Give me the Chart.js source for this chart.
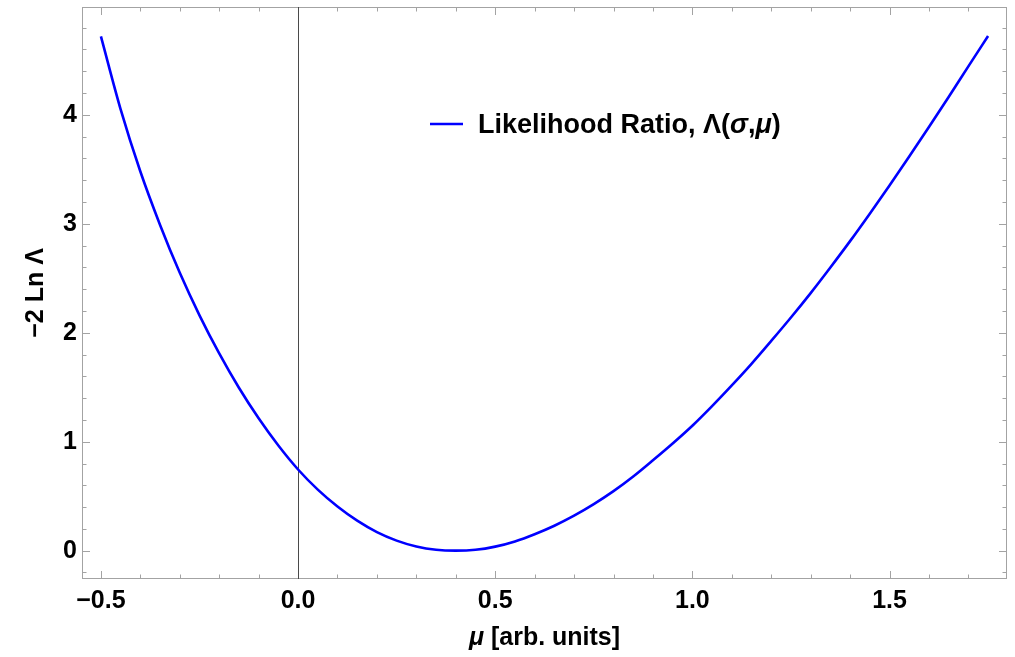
<!DOCTYPE html>
<html>
<head>
<meta charset="utf-8">
<title>Likelihood ratio</title>
<script src="https://cdn.jsdelivr.net/npm/chart.js@4.4.0/dist/chart.umd.min.js"></script>
<style>
    html, body { margin: 0; padding: 0; background: #fff; }
    #wrap { width: 1015px; height: 657px; }
</style>
</head>
<body>
<div id="wrap"><canvas id="chart-lr"></canvas></div>
<script>
// values
var muValues = [-0.50, -0.45, -0.40, -0.35, -0.30, -0.25, -0.20, -0.15, -0.10, -0.05,
    0.00, 0.05, 0.10, 0.15, 0.20, 0.25, 0.30, 0.35, 0.40, 0.45,
    0.50, 0.55, 0.60, 0.65, 0.70, 0.75, 0.80, 0.85, 0.90, 0.95,
    1.00, 1.05, 1.10, 1.15, 1.20, 1.25, 1.30, 1.35, 1.40, 1.45,
    1.50, 1.55, 1.60, 1.65, 1.70, 1.75];
var minus2LnLambda = [4.72, 4.05, 3.48, 2.99, 2.55, 2.16, 1.81, 1.495, 1.215, 0.965,
    0.745, 0.56, 0.405, 0.275, 0.17, 0.092, 0.038, 0.008, 0.0, 0.008,
    0.037, 0.085, 0.151, 0.229, 0.321, 0.427, 0.546, 0.681, 0.830, 0.984,
    1.147, 1.327, 1.517, 1.715, 1.925, 2.140, 2.364, 2.599, 2.841, 3.093,
    3.352, 3.617, 3.888, 4.164, 4.445, 4.724];

var seriesLabel = "Likelihood Ratio, \u039B(\u03C3,\u03BC)";
var xTitle = "\u03BC [arb. units]";
var yTitle = "\u22122 Ln \u039B";

var xMajorStep = 0.5, xMinorStep = 0.1;
var yMajorStep = 1, yMinorStep = 0.2;

var fontFamily = "'Liberation Sans', Arial, sans-serif";
var frameColor = "#a3a3a3";

function boldFont(size, italic) {
    return (italic ? "italic " : "") + "bold " + size + "px " + fontFamily;
}

// draws a string, putting greek lower case letters in italics
function drawRich(ctx, text, x, y, size, align) {
    var parts = text.split(/([\u03C3\u03BC])/).filter(function (p) { return p.length; });
    var widths = parts.map(function (p) {
        ctx.font = boldFont(size, /[\u03C3\u03BC]/.test(p));
        return ctx.measureText(p).width;
    });
    var total = widths.reduce(function (s, w) { return s + w; }, 0);
    var cx = align === "center" ? x - total / 2 : x;
    ctx.textAlign = "left";
    parts.forEach(function (p, i) {
        ctx.font = boldFont(size, /[\u03C3\u03BC]/.test(p));
        ctx.fillText(p, cx, y);
        cx += widths[i];
    });
}

function isMajor(v, step) {
    var q = v / step;
    return Math.abs(q - Math.round(q)) < 1e-6;
}

var framePlugin = {
    id: "frame",
    beforeDatasetsDraw: function (chart) {
        var ctx = chart.ctx, a = chart.chartArea;
        var xs = chart.scales.x, ys = chart.scales.y;
        var k, v, p, len;
        ctx.save();
        ctx.strokeStyle = frameColor;
        ctx.lineWidth = 1;
        ctx.strokeRect(a.left + 0.5, a.top + 0.5, a.right - a.left - 1, a.bottom - a.top - 1);
        ctx.beginPath();
        for (k = Math.ceil(xs.min / xMinorStep); k * xMinorStep <= xs.max; k++) {
            v = k * xMinorStep;
            len = isMajor(v, xMajorStep) ? 8 : 4.5;
            p = Math.round(xs.getPixelForValue(v)) + 0.5;
            ctx.moveTo(p, a.bottom); ctx.lineTo(p, a.bottom - len);
            ctx.moveTo(p, a.top); ctx.lineTo(p, a.top + len);
        }
        for (k = Math.ceil(ys.min / yMinorStep); k * yMinorStep <= ys.max; k++) {
            v = k * yMinorStep;
            len = isMajor(v, yMajorStep) ? 8 : 4.5;
            p = Math.round(ys.getPixelForValue(v)) + 0.5;
            ctx.moveTo(a.left, p); ctx.lineTo(a.left + len, p);
            ctx.moveTo(a.right, p); ctx.lineTo(a.right - len, p);
        }
        ctx.stroke();

        // vertical axis line at mu = 0
        p = Math.round(xs.getPixelForValue(0)) + 0.5;
        ctx.strokeStyle = "#4a4a4a";
        ctx.beginPath();
        ctx.moveTo(p, a.top);
        ctx.lineTo(p, a.bottom);
        ctx.stroke();
        ctx.restore();
    },
    afterDraw: function (chart) {
        var ctx = chart.ctx, a = chart.chartArea;
        var ds = chart.data.datasets[0];
        ctx.save();
        ctx.fillStyle = "#000";
        ctx.textBaseline = "middle";
        drawRich(ctx, xTitle, (a.left + a.right) / 2, 638, 25, "center");

        // legend
        var lx = a.left + 348, ly = a.top + 117;
        ctx.strokeStyle = ds.borderColor;
        ctx.lineWidth = ds.borderWidth;
        ctx.beginPath();
        ctx.moveTo(lx, ly);
        ctx.lineTo(lx + 33, ly);
        ctx.stroke();
        ctx.textBaseline = "alphabetic";
        drawRich(ctx, ds.label, lx + 48, ly + 9, 27, "left");
        ctx.restore();
    }
};

var chartLr = new Chart(document.getElementById("chart-lr"), {
    type: "line",
    data: {
        datasets: [{
            label: seriesLabel,
            data: muValues.map(function (m, i) { return { x: m, y: minus2LnLambda[i] }; }),
            borderColor: "#0000ff",
            borderWidth: 2.6,
            pointRadius: 0,
            fill: false,
            cubicInterpolationMode: "monotone"
        }]
    },
    options: {
        responsive: true,
        maintainAspectRatio: false,
        animation: false,
        layout: { padding: { left: 0, top: 7, right: 8, bottom: 0 } },
        plugins: {
            legend: { display: false },
            tooltip: { enabled: false }
        },
        scales: {
            x: {
                type: "linear",
                min: -0.548,
                max: 1.798,
                afterFit: function (scale) {
                    scale.height = 78;
                    scale.paddingLeft = 0;
                    scale.paddingRight = 0;
                },
                border: { display: false },
                grid: { display: false, drawTicks: false },
                ticks: {
                    stepSize: xMajorStep,
                    includeBounds: false,
                    autoSkip: false,
                    maxRotation: 0,
                    padding: 7,
                    color: "#000",
                    font: { family: fontFamily, size: 25, weight: "bold", lineHeight: 1.2 },
                    callback: function (v) { return v.toFixed(1).replace("-", "\u2212"); }
                }
            },
            y: {
                min: -0.26,
                max: 4.99,
                afterFit: function (scale) {
                    scale.width = 82;
                    scale.paddingTop = 0;
                    scale.paddingBottom = 0;
                },
                border: { display: false },
                grid: { display: false, drawTicks: false },
                title: {
                    display: true,
                    text: yTitle,
                    color: "#000",
                    padding: { top: 21, bottom: 0 },
                    font: { family: fontFamily, size: 25, weight: "bold", lineHeight: 1.2 }
                },
                ticks: {
                    stepSize: yMajorStep,
                    includeBounds: false,
                    autoSkip: false,
                    padding: 5,
                    color: "#000",
                    font: { family: fontFamily, size: 25, weight: "bold", lineHeight: 1.2 },
                    callback: function (v) { return String(v); }
                }
            }
        }
    },
    plugins: [framePlugin]
});
</script>
</body>
</html>
